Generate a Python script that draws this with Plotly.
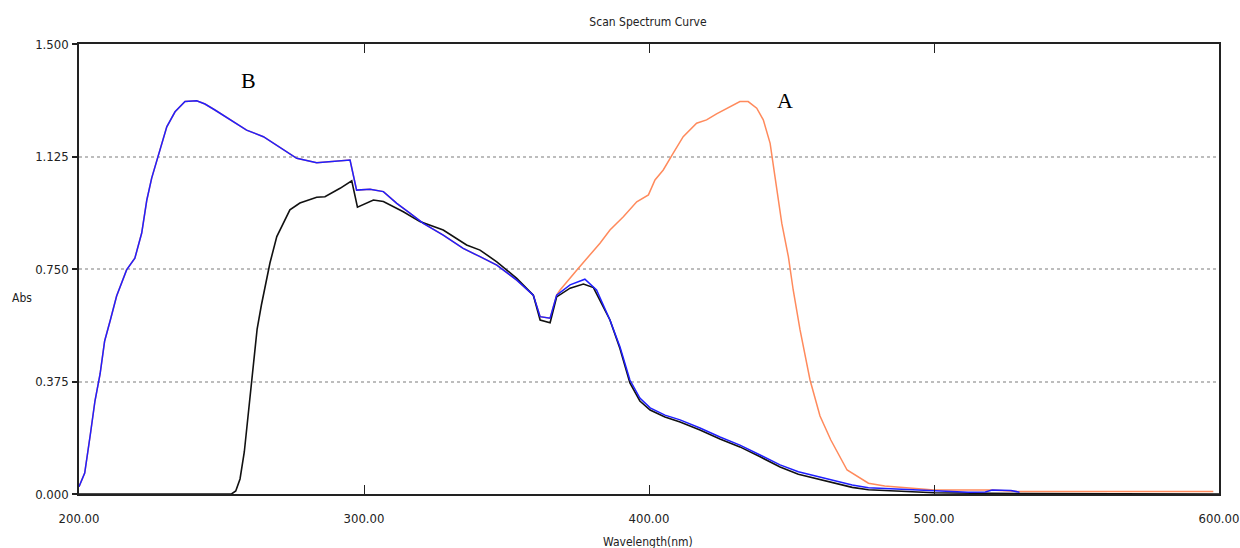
import plotly.graph_objects as go

# ---- data ----
B_wl = [200, 202, 204, 205.6, 207.4, 209, 211, 213.2, 216.7, 219.6, 222, 223.8, 225.5, 227.8,
        230.8, 233.7, 237.2, 241.3, 244.2, 247.7, 249.5, 254, 258.8, 264.7, 271.7, 276.4, 283.4,
        290.4, 295.1, 297.4, 302.1, 306.8, 311.5, 316.1, 320.8, 327.8, 334.8, 340.7, 346.6,
        353.6, 359.4, 361.8, 365.3, 367.6, 372.3, 377.5, 381.6, 386.3, 389.8, 393.3, 396.8,
        400.4, 405.6, 410.9, 417.9, 424.9, 431.9, 439, 446, 452.4, 463.8, 471.3, 477, 490,
        501.6, 512, 518, 520.4, 527, 530]
B_abs = [0.024, 0.07, 0.20, 0.31, 0.40, 0.51, 0.58, 0.66, 0.747, 0.786, 0.87, 0.98, 1.053, 1.124,
         1.224, 1.274, 1.308, 1.311, 1.30, 1.28, 1.269, 1.24, 1.213, 1.191, 1.147, 1.119, 1.104,
         1.108, 1.113, 1.013, 1.016, 1.008, 0.969, 0.936, 0.902, 0.863, 0.819, 0.791, 0.763,
         0.713, 0.663, 0.591, 0.586, 0.663, 0.697, 0.716, 0.68, 0.58, 0.491, 0.38, 0.32,
         0.287, 0.263, 0.247, 0.22, 0.19, 0.163, 0.13, 0.097, 0.074, 0.047, 0.03, 0.021, 0.015,
         0.011, 0.006, 0.007, 0.013, 0.012, 0.006]

K_wl = [200, 253.5, 255, 256.5, 258, 259.5, 261, 262.5, 264, 265.3, 267, 269.4, 274, 277.5,
        283.4, 286.3, 291.6, 295.7, 297.7, 303.3, 306.8, 313.8, 319.6, 327.8, 336, 340.7,
        346.6, 353.6, 359.4, 361.8, 365.3, 367.6, 372.3, 377, 380.5, 386.3, 389.8, 393.3,
        396.8, 400.4, 405.6, 410.9, 417.9, 424.9, 431.9, 439, 446, 452.4, 463.8, 471.3, 477,
        490, 500, 520, 600]
K_abs = [0.0, 0.0, 0.01, 0.05, 0.14, 0.28, 0.43, 0.55, 0.63, 0.69, 0.77, 0.858, 0.947, 0.97,
         0.989, 0.991, 1.019, 1.044, 0.956, 0.98, 0.975, 0.941, 0.908, 0.88, 0.83, 0.813,
         0.774, 0.719, 0.663, 0.58, 0.571, 0.657, 0.686, 0.70, 0.688, 0.58, 0.485, 0.37,
         0.31, 0.28, 0.257, 0.24, 0.213, 0.183, 0.157, 0.124, 0.09, 0.066, 0.04, 0.022, 0.014,
         0.008, 0.004, 0.002, 0.0]

# curve A follows curve B up to 367.6 nm, then diverges
A_split = 44  # number of shared points (up to 367.6 nm)
A_tail_wl = [368.8, 375, 382.8, 386.3, 391, 395.7, 399.8, 402.1, 405, 408.5, 412, 416.7, 420.2,
             423.7, 428.4, 431.9, 434.8, 437.8, 440.1, 442.5, 444.2, 446.6, 448.9, 450.6, 453,
             456.5, 460, 463.8, 469.5, 477, 482.7, 492.1, 500, 520, 530, 598]
A_tail_abs = [0.68, 0.75, 0.836, 0.88, 0.924, 0.974, 0.997, 1.047, 1.08, 1.136, 1.191, 1.236, 1.247,
              1.267, 1.291, 1.308, 1.308, 1.286, 1.247, 1.169, 1.058, 0.902, 0.791, 0.68, 0.547,
              0.38, 0.26, 0.18, 0.08, 0.036, 0.027, 0.019, 0.013, 0.013, 0.008, 0.008]
A_wl = B_wl[:A_split] + A_tail_wl
A_abs = B_abs[:A_split] + A_tail_abs

x_ticks = [200, 300, 400, 500, 600]
y_ticks = [0, 0.375, 0.75, 1.125, 1.5]

narrow = "Liberation Sans Narrow, DejaVu Sans Condensed, Arial Narrow, sans-serif"

fig = go.Figure()
fig.add_trace(go.Scatter(x=A_wl, y=A_abs, mode="lines", line=dict(color="#ff8a5c", width=1.5),
                         showlegend=False))
fig.add_trace(go.Scatter(x=K_wl, y=K_abs, mode="lines", line=dict(color="#111111", width=1.6),
                         showlegend=False))
fig.add_trace(go.Scatter(x=B_wl, y=B_abs, mode="lines", line=dict(color="#1f1fff", width=1.5),
                         showlegend=False))

fig.update_layout(
    width=1240, height=548,
    margin=dict(l=79, r=21, t=44, b=54, autoexpand=False),
    paper_bgcolor="white", plot_bgcolor="white",
    font=dict(family=narrow, size=12, color="#222"),
    title=dict(text="Scan Spectrum Curve", x=648 / 1240, xanchor="center", y=1 - 22 / 548,
               yanchor="middle", font=dict(family=narrow, size=12, color="#222")),
    xaxis=dict(range=[200, 600], tickvals=x_ticks, tickformat=".2f", ticks="inside", ticklen=9,
               tickwidth=1, tickcolor="#222", showline=True, linecolor="#222", linewidth=1.5,
               mirror="ticks", showgrid=False, zeroline=False, ticklabelstandoff=12,
               automargin=False,
               tickfont=dict(family=narrow, size=13, color="#222")),
    yaxis=dict(range=[0, 1.5], tickvals=y_ticks, tickformat=".3f", ticks="outside", ticklen=5,
               tickwidth=2, tickcolor="#222", showline=True, linecolor="#222", linewidth=1.5,
               mirror=True, showgrid=True, gridcolor="#bdbdbd", gridwidth=1.5,
               griddash="3px,3px", zeroline=False, ticklabelstandoff=1, automargin=False,
               tickfont=dict(family=narrow, size=13, color="#222")),
    annotations=[
        dict(text="Abs", xref="paper", yref="paper", x=-57 / 1140, y=(494 - 298) / 450,
             xanchor="center", yanchor="middle", showarrow=False,
             font=dict(family=narrow, size=12, color="#222")),
        dict(text="Wavelength(nm)", xref="paper", yref="paper", x=(648 - 79) / 1140,
             y=-(542 - 494) / 450, xanchor="center", yanchor="middle", showarrow=False,
             font=dict(family=narrow, size=12, color="#222")),
        dict(text="B", xref="x", yref="y", x=259.6, y=1.38, showarrow=False,
             font=dict(family="Liberation Serif, Times New Roman, serif", size=22, color="#000")),
        dict(text="A", xref="x", yref="y", x=447.7, y=1.313, showarrow=False,
             font=dict(family="Liberation Serif, Times New Roman, serif", size=22, color="#000")),
    ],
)

fig.write_html("out.html", config={"displayModeBar": False},
               post_script="document.body.style.margin='0';document.body.style.overflow='hidden';")
